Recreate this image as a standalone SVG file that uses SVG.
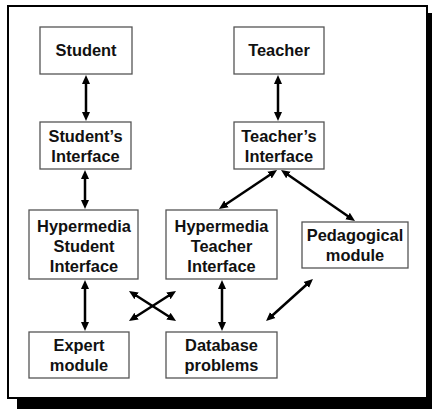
<svg xmlns="http://www.w3.org/2000/svg" width="432" height="409" viewBox="0 0 432 409">
<style>
.box{fill:#fff;stroke:#555;stroke-width:1.3}
.t{font-family:"Liberation Sans",Arial,sans-serif;font-weight:bold;font-size:16.4px;fill:#111;text-anchor:middle}
.c{stroke:#000;stroke-width:2.5;fill:none;marker-start:url(#ah);marker-end:url(#ah)}
</style>
<defs>
<marker id="ah" markerUnits="userSpaceOnUse" markerWidth="10" markerHeight="9" refX="1" refY="4" orient="auto-start-reverse" viewBox="0 0 10 8">
<path d="M0,0 L9,4 L0,8 z" fill="#000"/>
</marker>
</defs>
<rect x="0" y="0" width="432" height="409" fill="#fff"/>
<rect x="17" y="13" width="420" height="400" fill="#000"/>
<rect x="8" y="6" width="419" height="392" fill="#fff" stroke="#000" stroke-width="2"/>
<g id="connectors">
<line class="c" x1="86" y1="83" x2="86" y2="113"/>
<line class="c" x1="85" y1="178" x2="85" y2="201"/>
<line class="c" x1="85" y1="288" x2="85" y2="323"/>
<line class="c" x1="278" y1="83" x2="278" y2="113"/>
<line class="c" x1="222" y1="288" x2="222" y2="323"/>
<line class="c" x1="270.4" y1="174.5" x2="225.6" y2="204.5"/>
<line class="c" x1="287.6" y1="174.5" x2="348.4" y2="216.5"/>
<line class="c" x1="307" y1="284.3" x2="272" y2="315.7"/>
<line class="c" x1="135.7" y1="295.3" x2="169.3" y2="316.7"/>
<line class="c" x1="169.3" y1="295.3" x2="135.7" y2="316.7"/>
</g>
<g id="student"><rect class="box" x="40" y="27" width="92" height="47"/><text class="t" x="86" y="56">Student</text></g>
<g id="students-interface"><rect class="box" x="40" y="122" width="91" height="47"/><text class="t" x="85.5" y="142">Student’s</text><text class="t" x="85.5" y="162">Interface</text></g>
<g id="teacher"><rect class="box" x="234" y="27" width="90" height="47"/><text class="t" x="279" y="56">Teacher</text></g>
<g id="teachers-interface"><rect class="box" x="234" y="122" width="90" height="47"/><text class="t" x="279" y="142">Teacher’s</text><text class="t" x="279" y="162">Interface</text></g>
<g id="hypermedia-student"><rect class="box" x="29" y="210" width="109" height="69"/><text class="t" x="84" y="232">Hypermedia</text><text class="t" x="84" y="252">Student</text><text class="t" x="84" y="272">Interface</text></g>
<g id="hypermedia-teacher"><rect class="box" x="166" y="210" width="111" height="69"/><text class="t" x="221.5" y="232">Hypermedia</text><text class="t" x="221.5" y="252">Teacher</text><text class="t" x="221.5" y="272">Interface</text></g>
<g id="pedagogical"><rect class="box" x="302" y="222" width="106" height="46"/><text class="t" x="355" y="241">Pedagogical</text><text class="t" x="355" y="261">module</text></g>
<g id="expert"><rect class="box" x="29" y="332" width="100" height="46"/><text class="t" x="79" y="351">Expert</text><text class="t" x="79" y="371">module</text></g>
<g id="database"><rect class="box" x="166" y="332" width="111" height="46"/><text class="t" x="221.5" y="351">Database</text><text class="t" x="221.5" y="371">problems</text></g>
</svg>
